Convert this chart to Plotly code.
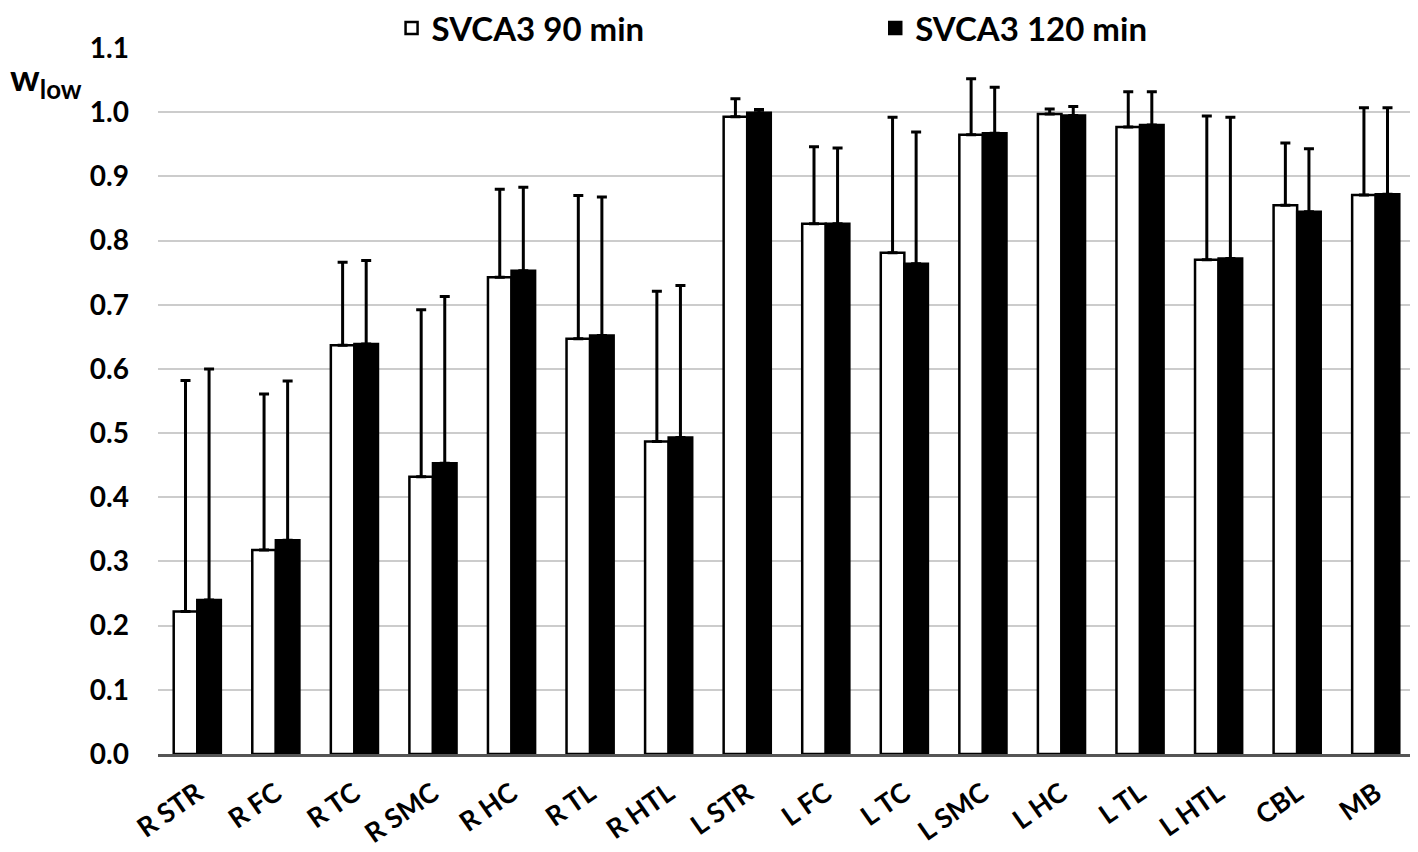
import plotly.graph_objects as go

regions = ["R STR", "R FC", "R TC", "R SMC", "R HC", "R TL", "R HTL", "L STR",
           "L FC", "L TC", "L SMC", "L HC", "L TL", "L HTL", "CBL", "MB"]
w90 = [0.222, 0.318, 0.637, 0.432, 0.743, 0.647, 0.487, 0.993,
       0.826, 0.781, 0.965, 0.997, 0.977, 0.770, 0.855, 0.871]
w90_err_top = [0.582, 0.561, 0.766, 0.692, 0.880, 0.870, 0.721, 1.021,
               0.946, 0.992, 1.052, 1.005, 1.032, 0.994, 0.952, 1.007]
w120 = [0.240, 0.333, 0.639, 0.453, 0.753, 0.652, 0.493, 0.999,
        0.826, 0.764, 0.967, 0.995, 0.980, 0.772, 0.845, 0.872]
w120_err_top = [0.600, 0.581, 0.769, 0.713, 0.883, 0.868, 0.730, 1.004,
                0.944, 0.969, 1.039, 1.009, 1.032, 0.992, 0.943, 1.007]

err90 = [t - v for t, v in zip(w90_err_top, w90)]
err120 = [t - v for t, v in zip(w120_err_top, w120)]

FONT = "Lato"

fig = go.Figure()
fig.add_trace(go.Bar(
    x=regions, y=w90, name="SVCA3 90 min", legend="legend",
    marker=dict(color="white", line=dict(color="black", width=2.5)),
    error_y=dict(type="data", array=err90, symmetric=False, arrayminus=[0]*len(err90),
                 color="black", thickness=3, width=5),
))
fig.add_trace(go.Bar(
    x=regions, y=w120, name="SVCA3 120 min", legend="legend2",
    marker=dict(color="black", line=dict(color="black", width=2.5)),
    error_y=dict(type="data", array=err120, symmetric=False, arrayminus=[0]*len(err120),
                 color="black", thickness=3, width=5),
))

legend_font = dict(size=33, family=FONT, weight="bold", color="black")

fig.update_layout(
    width=1418, height=852,
    margin=dict(l=150, r=11, t=40, b=106, autoexpand=False),
    paper_bgcolor="white", plot_bgcolor="white",
    barmode="group", bargap=0.4, bargroupgap=0,
    font=dict(family=FONT, color="black"),
    showlegend=True,
    legend=dict(xref="container", yref="container", x=0.2705, y=0.9765,
                xanchor="left", yanchor="middle", font=legend_font,
                bgcolor="rgba(0,0,0,0)"),
    legend2=dict(xref="container", yref="container", x=0.6116, y=0.9765,
                 xanchor="left", yanchor="middle", font=legend_font,
                 bgcolor="rgba(0,0,0,0)"),
    yaxis=dict(range=[0, 1.1], dtick=0.1, tickformat=".1f",
               showgrid=True, gridcolor="#cccccc", gridwidth=1.5,
               zeroline=False, showline=False, ticks="",
               ticklabelstandoff=28,
               tickfont=dict(size=28, family=FONT, weight="bold")),
    xaxis=dict(showline=True, linecolor="#555555", linewidth=3,
               ticks="", tickangle=-35, ticklabelstandoff=10,
               tickfont=dict(size=27, family=FONT, weight="bold")),
    annotations=[dict(
        text="w<sub>low</sub>", xref="paper", yref="paper",
        x=-0.1193, y=0.955, xanchor="left", yanchor="middle",
        showarrow=False, font=dict(size=37, family=FONT, weight="bold"))],
)

fig.write_html("out.html")
